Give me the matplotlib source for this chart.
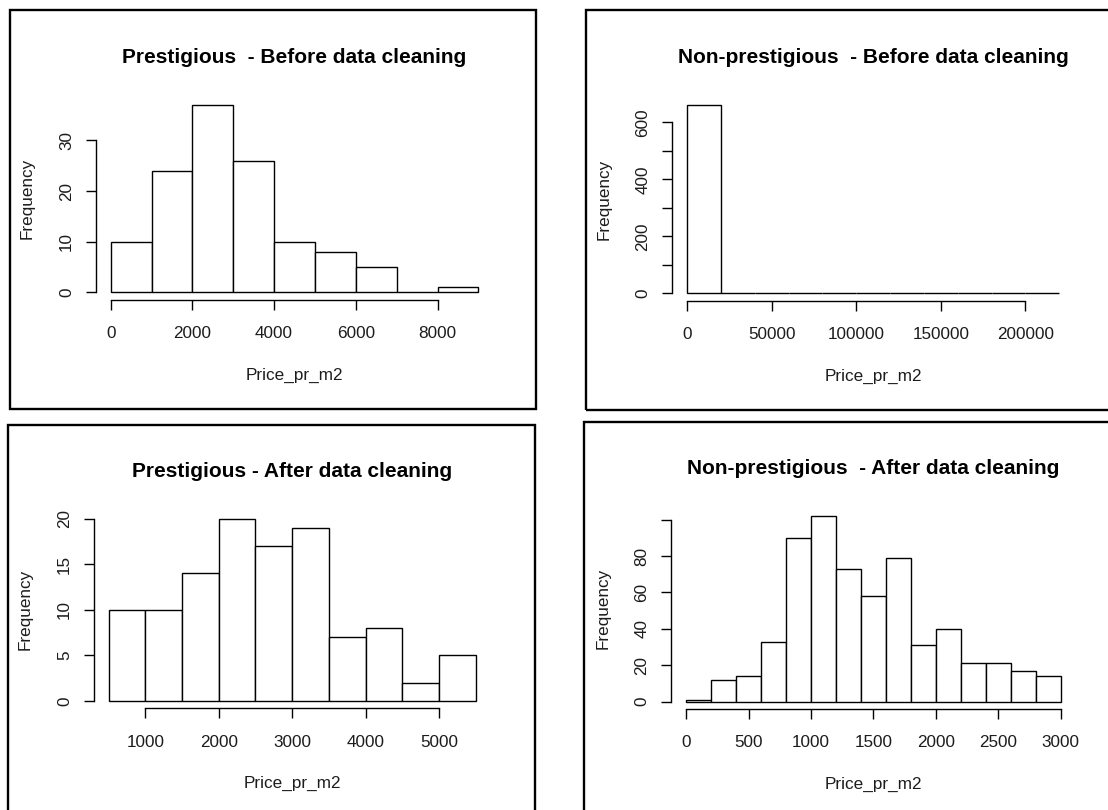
import numpy as np
import matplotlib
matplotlib.use("Agg")
import matplotlib.pyplot as plt
from matplotlib.patches import Rectangle

# histogram bins and counts
p1_edges = [0, 1000, 2000, 3000, 4000, 5000, 6000, 7000, 8000, 9000]
p1_counts = [10, 24, 37, 26, 10, 8, 5, 0, 1]
p1_xticks = [0, 2000, 4000, 6000, 8000]
p1_yticks = [0, 10, 20, 30]
p1_ylabels = ["0", "10", "20", "30"]

p2_edges = [0, 20000, 40000, 60000, 80000, 100000, 120000, 140000,
            160000, 180000, 200000, 220000]
p2_counts = [661, 0, 0, 0, 0, 0, 0, 0, 0, 0, 1]
p2_xticks = [0, 50000, 100000, 150000, 200000]
p2_yticks = [0, 100, 200, 300, 400, 500, 600]
p2_ylabels = ["0", "", "200", "", "400", "", "600"]

p3_edges = [500, 1000, 1500, 2000, 2500, 3000, 3500, 4000, 4500, 5000, 5500]
p3_counts = [10, 10, 14, 20, 17, 19, 7, 8, 2, 5]
p3_xticks = [1000, 2000, 3000, 4000, 5000]
p3_yticks = [0, 5, 10, 15, 20]
p3_ylabels = ["0", "5", "10", "15", "20"]

p4_edges = [0, 200, 400, 600, 800, 1000, 1200, 1400, 1600, 1800, 2000,
            2200, 2400, 2600, 2800, 3000]
p4_counts = [1, 12, 14, 33, 90, 102, 73, 58, 79, 31, 40, 21, 21, 17, 14]
p4_xticks = [0, 500, 1000, 1500, 2000, 2500, 3000]
p4_yticks = [0, 20, 40, 60, 80, 100]
p4_ylabels = ["0", "20", "40", "60", "80", ""]

titles = [
    "Prestigious  - Before data cleaning",
    "Non-prestigious  - Before data cleaning",
    "Prestigious - After data cleaning",
    "Non-prestigious  - After data cleaning",
]

W, H = 1108, 810
plt.rcParams["font.family"] = ["Liberation Sans", "DejaVu Sans"]
TXT = "#1c1c1c"

fig = plt.figure(figsize=(W / 100, H / 100), dpi=100)


def px_axes(l, t, r, b):
    return fig.add_axes([l / W, 1 - b / H, (r - l) / W, (b - t) / H])


def border(l, t, r, b):
    fig.add_artist(Rectangle((l / W, 1 - b / H), (r - l) / W, (b - t) / H,
                             transform=fig.transFigure, fill=False,
                             edgecolor="black", linewidth=1.7, clip_on=False))


def r_hist(ax, title, edges, counts, xticks, yticks, ylabels):
    edges = np.array(edges, dtype=float)
    ax.bar(edges[:-1], counts, width=np.diff(edges), align="edge",
           facecolor="white", edgecolor="black", linewidth=1.0)
    # R style: 4% padding around the data range
    xr = edges[-1] - edges[0]
    ax.set_xlim(edges[0] - 0.04 * xr, edges[-1] + 0.04 * xr)
    ymax = max(counts)
    ax.set_ylim(-0.04 * ymax, 1.04 * ymax)

    for s in ["top", "right"]:
        ax.spines[s].set_visible(False)
    for s in ["left", "bottom"]:
        ax.spines[s].set_linewidth(1.0)
        ax.spines[s].set_color("black")
    ax.spines["bottom"].set_bounds(xticks[0], xticks[-1])
    ax.spines["left"].set_bounds(yticks[0], yticks[-1])

    ax.set_xticks(xticks)
    ax.set_xticklabels([str(x) for x in xticks])
    ax.set_yticks(yticks)
    ax.set_yticklabels(ylabels)
    ax.tick_params(axis="both", length=7.5, width=1.0, color="black",
                   labelsize=12.3, labelcolor=TXT)
    ax.tick_params(axis="x", pad=11.5)
    ax.tick_params(axis="y", pad=8.2, labelrotation=90)
    for lab in ax.get_yticklabels():
        lab.set_va("center")

    ax.set_xlabel("Price_pr_m2", fontsize=12.3, color=TXT, labelpad=19)
    ax.set_ylabel("Frequency", fontsize=12.3, color=TXT, labelpad=17.4)
    ax.set_title(title, fontsize=15, fontweight="bold", color="black", pad=24.9)
    ax.patch.set_alpha(0)


# panel frames
border(10, 10, 536, 409)
border(586, 10, 1120, 410)
border(7.5, 425, 535, 830)
border(584, 422, 1120, 830)

ax1 = px_axes(96.0, 97.4, 493.1, 300.0)
r_hist(ax1, titles[0], p1_edges, p1_counts, p1_xticks, p1_yticks, p1_ylabels)

ax2 = px_axes(672.4, 97.4, 1074.0, 300.8)
r_hist(ax2, titles[1], p2_edges, p2_counts, p2_xticks, p2_yticks, p2_ylabels)

ax3 = px_axes(94.0, 511.4, 490.3, 708.3)
r_hist(ax3, titles[2], p3_edges, p3_counts, p3_xticks, p3_yticks, p3_ylabels)

ax4 = px_axes(671.2, 508.5, 1075.5, 709.1)
r_hist(ax4, titles[3], p4_edges, p4_counts, p4_xticks, p4_yticks, p4_ylabels)

fig.savefig("out.png", dpi=100, facecolor="white")
